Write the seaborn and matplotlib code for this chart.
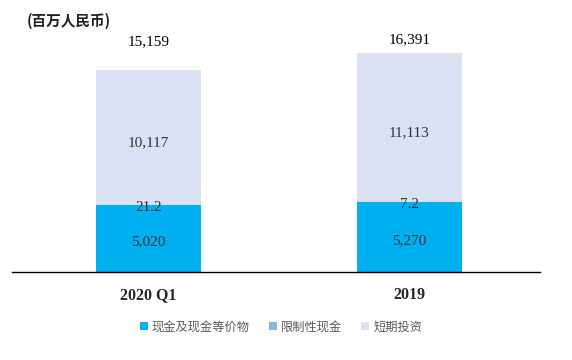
import matplotlib
matplotlib.use("Agg")
import matplotlib.pyplot as plt
import seaborn as sns
import pandas as pd
from matplotlib.patches import Patch

categories = ["2020 Q1", "2019"]
cash = [5020, 5270]
restricted = [21.2, 7.2]
short_term = [10117, 11113]
totals = [15159, 16391]
cash_labels = ["5,020", "5,270"]
restricted_labels = ["21.2", "7.2"]
short_labels = ["10,117", "11,113"]
total_labels = ["15,159", "16,391"]
series_names = ["现金及现金等价物", "限制性现金", "短期投资"]
colors = ["#00B0F0", "#8EB4E3", "#DAE1F2"]

sns.set_theme(style="white")
plt.rcParams['font.family'] = ['Liberation Serif', 'Noto Sans CJK SC', 'DejaVu Sans']

df = pd.DataFrame({
    "cat": categories,
    "cash": cash,
    "cash_res": [c + r for c, r in zip(cash, restricted)],
    "total": [c + r + s for c, r, s in zip(cash, restricted, short_term)],
})

fig = plt.figure(figsize=(5.72, 3.6), dpi=100)
ax = fig.add_axes([12/572, 88/360, 528/572, 242/360])

for col, c in zip(["total", "cash_res", "cash"], [colors[2], colors[1], colors[0]]):
    sns.barplot(data=df, x="cat", y=col, color=c, width=0.402, ax=ax,
                saturation=1, linewidth=0, edgecolor="none")

ax.set_xlim(-0.523, 1.5)
ax.set_ylim(0, 18150)
for s in ["top", "right", "left"]:
    ax.spines[s].set_visible(False)
ax.spines["bottom"].set_color("black")
ax.spines["bottom"].set_linewidth(1.0)
ax.set_yticks([])
ax.set_xlabel("")
ax.set_ylabel("")
ax.tick_params(axis="x", length=0, pad=11)
for lab in ax.get_xticklabels():
    lab.set_fontweight("bold")
    lab.set_fontsize(11.5)
    lab.set_color("#262626")

tc = "#333333"
fs = 11
total_offsets = [2080, 1000]
for i in range(len(categories)):
    ax.text(i, df["total"][i] + total_offsets[i], total_labels[i], ha="center", va="center", fontsize=fs, color="black")
    ax.text(i, cash[i] + restricted[i] + short_term[i] / 2 - 400, short_labels[i], ha="center", va="center", fontsize=fs, color=tc)
    ax.text(i, cash[i] - 200, restricted_labels[i], ha="center", va="center", fontsize=fs, color=tc)
    ax.text(i, cash[i] * 0.45, cash_labels[i], ha="center", va="center", fontsize=fs, color=tc)

fig.text(27/572, 1 - 21/360, "(百万人民币)", ha="left", va="center", fontsize=10.5,
         family=['Noto Sans CJK SC'], fontweight="bold", color="#222222")

handles = [Patch(facecolor=c, edgecolor="none") for c in colors]
fig.legend(handles, series_names, loc="center", bbox_to_anchor=(281/572, 1 - 327/360), ncol=3,
           frameon=False, handlelength=0.65, handleheight=0.65, handletextpad=0.3, columnspacing=1.6,
           prop={"family": "Noto Sans CJK SC", "size": 8.8}, labelcolor="#595959")

fig.savefig("out.png", dpi=100)
